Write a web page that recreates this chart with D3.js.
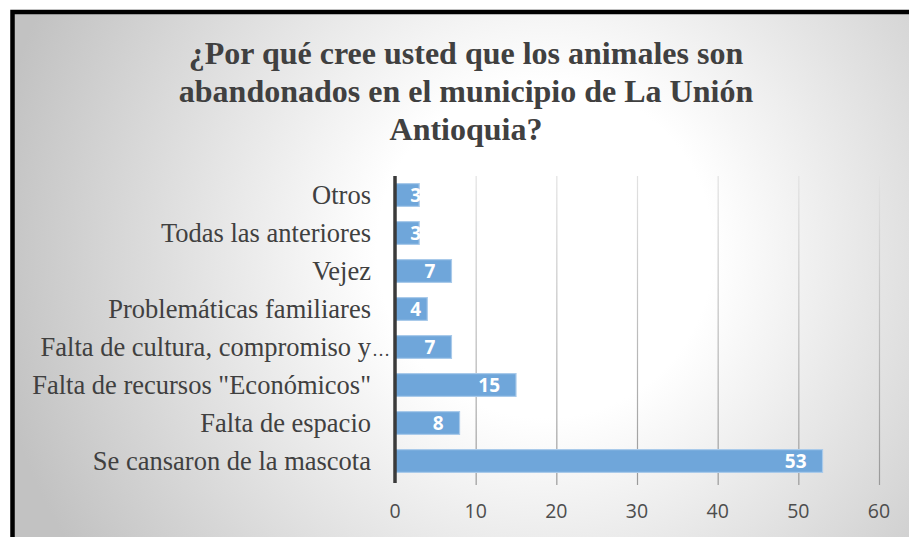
<!DOCTYPE html>
<html><head><meta charset="utf-8">
<script src="https://cdn.jsdelivr.net/npm/d3@7"></script>
<style>html,body{margin:0;padding:0;background:#fff;}svg{display:block;}</style>
</head><body>
<svg id="chart" width="909" height="537"></svg>
<script>
const titleLines = ["¿Por qué cree usted que los animales son", "abandonados en el municipio de La Unión", "Antioquia?"];
const categories = ["Se cansaron de la mascota", "Falta de espacio", "Falta de recursos \"Económicos\"", "Falta de cultura, compromiso y…", "Problemáticas familiares", "Vejez", "Todas las anteriores", "Otros"];
const values = [53, 8, 15, 7, 4, 7, 3, 3];
const xTicks = [0, 10, 20, 30, 40, 50, 60];

const svg = d3.select("#chart");
const defs = svg.append("defs");
const rg = defs.append("radialGradient").attr("id", "bg").attr("gradientUnits", "userSpaceOnUse")
  .attr("cx", 545).attr("cy", 250).attr("r", 560);
rg.append("stop").attr("offset", 0).attr("stop-color", "#ffffff");
rg.append("stop").attr("offset", 0.3).attr("stop-color", "#ffffff");
rg.append("stop").attr("offset", 1).attr("stop-color", "#c2c2c2");
const lg = defs.append("linearGradient").attr("id", "grid").attr("gradientUnits", "userSpaceOnUse")
  .attr("x1", 0).attr("y1", 176).attr("x2", 0).attr("y2", 480);
lg.append("stop").attr("offset", 0).attr("stop-color", "#e2e2e2");
lg.append("stop").attr("offset", 1).attr("stop-color", "#9a9a9a");

// frame
svg.append("rect").attr("x", 12.5).attr("y", 12).attr("width", 940).attr("height", 560)
  .attr("fill", "url(#bg)").attr("stroke", "#000").attr("stroke-width", 4.5);

// title
svg.append("text").attr("x", 466).attr("y", 64).attr("text-anchor", "middle")
  .attr("font-family", "Liberation Serif, Times New Roman, serif").attr("font-weight", "bold")
  .attr("font-size", 32).attr("fill", "#404040")
  .selectAll("tspan").data(titleLines).join("tspan")
  .attr("x", 466).attr("dy", (d, i) => i === 0 ? 0 : 38).text(d => d);

const pLeft = 395, pRight = 879, pTop = 176, pBottom = 480;
const x = d3.scaleLinear().domain([0, 60]).range([pLeft, pRight]);
const y = d3.scaleBand().domain(categories.slice().reverse()).range([pTop, pBottom]).paddingInner(0.4).paddingOuter(0.2);

// gridlines
svg.append("g").selectAll("line").data(xTicks.slice(1)).join("line")
  .attr("x1", d => x(d) + 0.5).attr("x2", d => x(d) + 0.5)
  .attr("y1", pTop).attr("y2", pBottom + 5)
  .attr("stroke", "url(#grid)").attr("stroke-width", 1.2);

// bars
const rows = categories.map((c, i) => ({c, v: values[i]}));
svg.append("g").selectAll("rect").data(rows).join("rect")
  .attr("x", x(0)).attr("y", d => y(d.c))
  .attr("width", d => x(d.v) - x(0)).attr("height", y.bandwidth())
  .attr("fill", "#6fa6da").attr("stroke", "#a9caea").attr("stroke-width", 1.2);

// data labels
svg.append("g").selectAll("text").data(rows).join("text")
  .attr("x", d => Math.max(x(d.v) - 16, pLeft + 26))
  .attr("y", d => y(d.c) + y.bandwidth() / 2 + 7)
  .attr("text-anchor", "end")
  .attr("font-family", "Open Sans, Liberation Sans, sans-serif").attr("font-weight", "bold")
  .attr("font-size", 19).attr("fill", "#ffffff").text(d => d.v);

// category labels (truncated ones: ellipsis hangs past the label edge)
const labG = svg.append("g")
  .attr("font-family", "Liberation Serif, Times New Roman, serif").attr("fill", "#404040");
categories.forEach(c => {
  const trunc = c.endsWith("…");
  const main = trunc ? c.slice(0, -1) : c;
  const yy = y(c) + y.bandwidth() / 2 + 9;
  labG.append("text").attr("x", 371).attr("y", yy).attr("text-anchor", "end")
    .attr("font-size", 26.5).text(main);
  if (trunc) {
    labG.append("text").attr("x", 372).attr("y", yy).attr("text-anchor", "start")
      .attr("font-size", 18).text("…");
  }
});

// y axis line
svg.append("line").attr("x1", pLeft).attr("x2", pLeft).attr("y1", pTop).attr("y2", pBottom + 3)
  .attr("stroke", "#3a3a3a").attr("stroke-width", 3.5);

// x tick labels
svg.append("g").selectAll("text").data(xTicks).join("text")
  .attr("x", d => x(d)).attr("y", 518).attr("text-anchor", "middle")
  .attr("font-family", "Open Sans, Liberation Sans, sans-serif")
  .attr("font-size", 19.5).attr("fill", "#4d4d4d").text(d => d);
</script>
</body></html>
